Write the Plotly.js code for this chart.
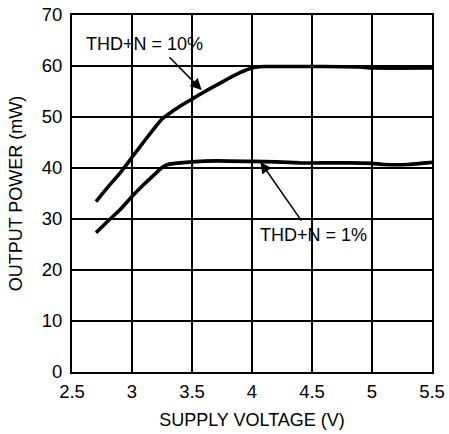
<!DOCTYPE html>
<html><head><meta charset="utf-8">
<script src="https://cdn.plot.ly/plotly-3.0.1.min.js"></script>
<style>html,body{margin:0;padding:0;background:#fff;}</style>
</head><body><div id="chart" style="width:449px;height:434px;"></div>
<script>
var voltage10 = [2.7, 2.8, 2.9, 2.95, 3.0, 3.1, 3.2, 3.25, 3.3, 3.4, 3.5, 3.6, 3.7, 3.8, 3.9, 4.0, 4.1, 4.3, 4.6, 4.9, 5.0, 5.5];
var power10   = [33.4, 36.3, 39.0, 40.5, 42.1, 45.2, 48.2, 49.6, 50.5, 52.1, 53.5, 54.9, 56.2, 57.5, 58.7, 59.6, 59.9, 59.9, 59.9, 59.8, 59.6, 59.6];
var voltage1  = [2.7, 2.8, 2.9, 3.0, 3.1, 3.2, 3.25, 3.3, 3.4, 3.5, 3.7, 4.0, 4.2, 4.4, 4.6, 4.8, 5.0, 5.1, 5.3, 5.5];
var power1    = [27.3, 29.6, 31.8, 34.4, 36.8, 39.0, 40.1, 40.7, 41.0, 41.2, 41.4, 41.3, 41.2, 41.0, 41.0, 41.0, 40.9, 40.7, 40.7, 41.1];
var xTicks = [2.5, 3, 3.5, 4, 4.5, 5, 5.5];
var yTicks = [0, 10, 20, 30, 40, 50, 60, 70];
var label10 = "THD+N = 10%";
var label1 = "THD+N = 1%";
var xTitle = "SUPPLY VOLTAGE (V)";
var yTitle = "OUTPUT POWER (mW)";

var font = {family: "Liberation Sans, Arial, sans-serif", size: 18, color: "#000"};
var tickFont = {family: "Liberation Sans, Arial, sans-serif", size: 18.5, color: "#000"};
var traces = [
  {x: voltage10, y: power10, mode: "lines", line: {color: "#000", width: 3.6, shape: "spline", smoothing: 0.4}, hoverinfo: "skip"},
  {x: voltage1, y: power1, mode: "lines", line: {color: "#000", width: 3.6, shape: "spline", smoothing: 0.4}, hoverinfo: "skip"}
];
var layout = {
  width: 449, height: 434, autosize: false,
  margin: {l: 72, r: 17, t: 15, b: 62},
  paper_bgcolor: "#fff", plot_bgcolor: "#fff",
  showlegend: false,
  font: font,
  xaxis: {
    range: [2.5, 5.5], tickvals: xTicks, ticktext: xTicks.map(String),
    showgrid: true, gridcolor: "#000", gridwidth: 1.5,
    showline: true, mirror: true, linecolor: "#000", linewidth: 2,
    ticks: "", zeroline: false, tickfont: tickFont, ticklabelstandoff: 2,
    title: {text: xTitle, font: font, standoff: 12}
  },
  yaxis: {
    range: [0, 70], tickvals: yTicks, ticktext: yTicks.map(String),
    showgrid: true, gridcolor: "#000", gridwidth: 1.5,
    showline: true, mirror: true, linecolor: "#000", linewidth: 2,
    ticks: "", zeroline: false, tickfont: tickFont, ticklabelstandoff: 4,
    title: {text: yTitle, font: font, standoff: 14}
  },
  annotations: [
    {x: 3.1, y: 64.4, xref: "x", yref: "y", text: label10, showarrow: false, font: font},
    {x: 3.58, y: 55.3, xref: "x", yref: "y", text: "", showarrow: true, axref: "x", ayref: "y", ax: 3.30, ay: 62.0,
     arrowhead: 2, arrowsize: 1.5, arrowwidth: 1.5, arrowcolor: "#000", standoff: 0, startstandoff: 0},
    {x: 4.51, y: 26.9, xref: "x", yref: "y", text: label1, showarrow: false, font: font},
    {x: 4.07, y: 41.2, xref: "x", yref: "y", text: "", showarrow: true, axref: "x", ayref: "y", ax: 4.42, ay: 29.4,
     arrowhead: 2, arrowsize: 1.5, arrowwidth: 1.5, arrowcolor: "#000", standoff: 0, startstandoff: 0}
  ]
};
Plotly.newPlot("chart", traces, layout, {displayModeBar: false, staticPlot: true});
</script></body></html>
